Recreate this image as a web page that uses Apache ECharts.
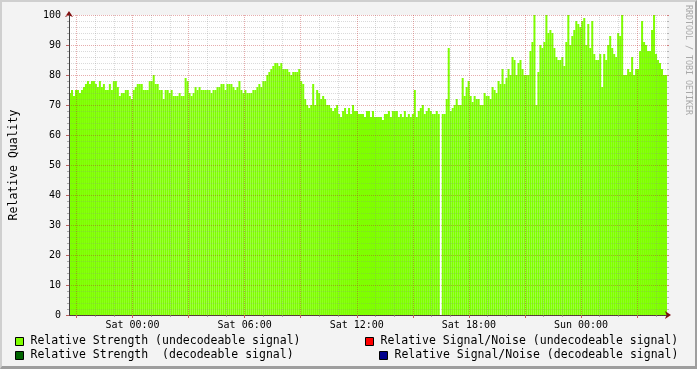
<!DOCTYPE html>
<html><head><meta charset="utf-8">
<script src="https://cdn.jsdelivr.net/npm/echarts@6/dist/echarts.min.js"></script>
<style>
html,body{margin:0;padding:0;background:#f3f3f3;}
#wrap{position:relative;width:697px;height:369px;}
#c{width:697px;height:369px;}
#frame{position:absolute;left:0;top:0;width:697px;height:369px;box-sizing:border-box;border-top:2px solid #cfcfcf;border-left:2px solid #cfcfcf;border-right:2px solid #9e9e9e;border-bottom:3px solid #9e9e9e;pointer-events:none;}
</style></head>
<body><div id="wrap"><div id="c"></div><div id="frame"></div></div>
<script>
// Relative Strength (undecodeable signal), one value per sample (~6.4 min)
const strengthUndecodable = [
74,75,73,75,75,74,75,76,77,78, 77,78,78,77,76,78,76,77,75,75,
77,75,78,78,76,73,74,74,75,75, 73,72,75,76,77,77,77,75,75,75,
78,78,80,77,77,75,75,72,75,75, 74,75,73,73,73,74,73,73,79,78,
74,
73,74,76,75,76,75,75,75,75,75,
74,75,75,76,76,77,77,75,77,77,
77,76,75,76,78,75,74,75,74,74,
74,75,75,76,77,76,78,78,80,81,
82,83,84,84,83,84,82,82,82,81,
80,81,81,81,82,78,77,72,70,69,
70,
77,70,75,74,72,73,72,70,70,
69,68,69,70,67,66,68,69,67,69,
67,70,68,68,67,67,67,66,68,68,
66,68,66,66,66,66,65,67,67,68,
66,68,68,68,66,67,66,68,66,67,
66,67,75,66,68,69,70,67,68,69,
68,67,
67,68,67,0,67,67,72,89,68,69,
70,72,70,70,79,73,76,78,73,71,
73,72,72,70,70,74,73,73,72,76,
75,74,78,77,82,77,79,82,80,86,
85,80,84,85,82,80,80,80,88,91,
100,70,81,90,89,91,100,94,95,94,
89,
86,85,85,86,83,91,100,90,93,95,
98,97,96,98,99,90,97,89,98,87,
85,85,87,76,87,85,90,93,89,87,
86,94,93,100,80,80,82,81,86,80,
82,82,88,98,91,90,88,88,95,100,
87,85,84,82,80,80
];
const strengthDecodable = [];
const snrUndecodable = [];
const snrDecodable = [];

const seriesNames = [
  'Relative Strength (undecodeable signal)',
  'Relative Strength  (decodeable signal)',
  'Relative Signal/Noise (undecodeable signal)',
  'Relative Signal/Noise (decodeable signal)'
];
const seriesColors = ['#7FFF00', '#006400', '#FF0000', '#00008B'];

const startHour = -3.4;   // hours relative to Sat 00:00
const spanHours = 32;
const tickLabels = ['Sat 00:00', 'Sat 06:00', 'Sat 12:00', 'Sat 18:00', 'Sun 00:00'];
const labelHours = [0, 6, 12, 18, 24];

const FONT = 'DejaVu Sans Mono';
const GRID = 'rgba(140,140,140,0.32)';
const MGRID = 'rgba(190,40,40,0.38)';

const stepHours = spanHours / strengthUndecodable.length;
const categories = strengthUndecodable.map((_, i) => (startHour + i * stepHours).toFixed(3));
const allHours = [];
for (let h = Math.ceil(startHour); h <= startHour + spanHours; h++) allHours.push(h);
const majorHours = allHours.filter(h => h % 3 === 0);
const minorHours = allHours.filter(h => h % 3 !== 0);

const chart = echarts.init(document.getElementById('c'));
const legendCommon = {
  orient: 'horizontal', icon: 'rect', itemWidth: 8, itemHeight: 8, itemGap: 0, padding: 0,
  selectedMode: false,
  textStyle: { fontFamily: FONT, fontSize: 11.5, color: '#000', lineHeight: 14, padding: [0, 0, 0, 2] },
  itemStyle: { borderColor: '#000', borderWidth: 1 }
};
const xRange = { type: 'value', min: startHour, max: startHour + spanHours, position: 'bottom' };
const barCommon = { type: 'bar', stack: 'q', xAxisIndex: 0, yAxisIndex: 0, barCategoryGap: '0%', barGap: '0%', silent: true, z: 2 };

chart.setOption({
  animation: false,
  backgroundColor: '#f3f3f3',
  grid: { left: 67, top: 15, width: 600, height: 300, show: true, backgroundColor: '#ffffff', borderWidth: 0 },
  xAxis: [
    { type: 'category', data: categories, boundaryGap: true, show: false, position: 'bottom',
      axisLine: { show: false }, axisTick: { show: false }, axisLabel: { show: false },
      splitLine: { show: false }, splitArea: { show: false } },
    Object.assign({}, xRange, {
      z: 10,
      axisLine: { show: true, onZero: false, lineStyle: { color: '#404040', width: 1 } },
      axisTick: { show: true, customValues: minorHours, length: 2, lineStyle: { color: 'rgba(140,140,140,0.7)' } },
      axisLabel: { show: false },
      splitLine: { show: true, lineStyle: { color: GRID, type: [1, 1] } }
    }),
    Object.assign({}, xRange, {
      z: 11,
      axisLine: { show: false, onZero: false },
      axisTick: { show: true, customValues: majorHours, length: 3, lineStyle: { color: '#c06060' } },
      axisLabel: {
        show: true, customValues: labelHours, margin: 5,
        formatter: v => tickLabels[labelHours.indexOf(Math.round(v))],
        fontFamily: FONT, fontSize: 10, color: '#000'
      },
      splitLine: { show: true, lineStyle: { color: MGRID, type: [1, 1] } }
    }),
    Object.assign({}, xRange, {
      z: 9,
      axisLine: { show: true, onZero: false, lineStyle: { color: '#801010' }, symbol: ['none', 'arrow'], symbolSize: [6, 6], symbolOffset: [0, 4] },
      axisTick: { show: false }, axisLabel: { show: false }, splitLine: { show: false }
    })
  ],
  yAxis: [
    {
      type: 'value', min: 0, max: 100, interval: 10, position: 'left', z: 11,
      axisLine: { show: true, onZero: false, lineStyle: { color: '#404040' } },
      axisTick: { show: true, length: 3, lineStyle: { color: '#c06060' } },
      minorTick: { show: true, splitNumber: 5, length: 2, lineStyle: { color: 'rgba(140,140,140,0.7)' } },
      axisLabel: { fontFamily: FONT, fontSize: 10, color: '#000', margin: 8 },
      splitLine: { show: true, lineStyle: { color: MGRID, type: [1, 1] } },
      minorSplitLine: { show: true, lineStyle: { color: GRID, type: [1, 1] } },
      name: 'Relative Quality', nameLocation: 'middle', nameGap: 49, nameRotate: 90,
      nameTextStyle: { fontFamily: FONT, fontSize: 11.5, color: '#000' }
    },
    {
      type: 'value', min: 0, max: 100, interval: 10, position: 'left', z: 9,
      axisLine: { show: true, onZero: false, lineStyle: { color: '#801010' }, symbol: ['none', 'arrow'], symbolSize: [6, 6], symbolOffset: [0, 4] },
      axisTick: { show: false }, axisLabel: { show: false }, splitLine: { show: false }
    },
    {
      type: 'value', min: 0, max: 100, interval: 10, position: 'right', z: 9,
      axisLine: { show: false, onZero: false },
      axisTick: { show: true, length: 2, lineStyle: { color: '#d08080' } },
      minorTick: { show: true, splitNumber: 5, length: 2, lineStyle: { color: 'rgba(140,140,140,0.6)' } },
      axisLabel: { show: false }, splitLine: { show: false }
    }
  ],
  legend: [
    Object.assign({}, legendCommon, { left: 15, top: 334.5, data: [seriesNames[0]] }),
    Object.assign({}, legendCommon, { left: 365, top: 334.5, data: [seriesNames[2]] }),
    Object.assign({}, legendCommon, { left: 15, top: 348.5, data: [seriesNames[1]] }),
    Object.assign({}, legendCommon, { left: 379, top: 348.5, data: [seriesNames[3]] })
  ],
  series: [
    Object.assign({}, barCommon, { name: seriesNames[0], data: strengthUndecodable, itemStyle: { color: seriesColors[0] } }),
    Object.assign({}, barCommon, { name: seriesNames[1], data: strengthDecodable, itemStyle: { color: seriesColors[1] } }),
    Object.assign({}, barCommon, { name: seriesNames[2], data: snrUndecodable, itemStyle: { color: seriesColors[2] } }),
    Object.assign({}, barCommon, { name: seriesNames[3], data: snrDecodable, itemStyle: { color: seriesColors[3] } })
  ],
  graphic: [
    { type: 'text', x: 688.5, y: 5, rotation: -Math.PI / 2, silent: true,
      style: { text: 'RRDTOOL / TOBI OETIKER', font: '8.3px "DejaVu Sans Mono"', fill: '#a8a8a8', align: 'left', verticalAlign: 'middle' } }
  ]
});
</script>
</body></html>
